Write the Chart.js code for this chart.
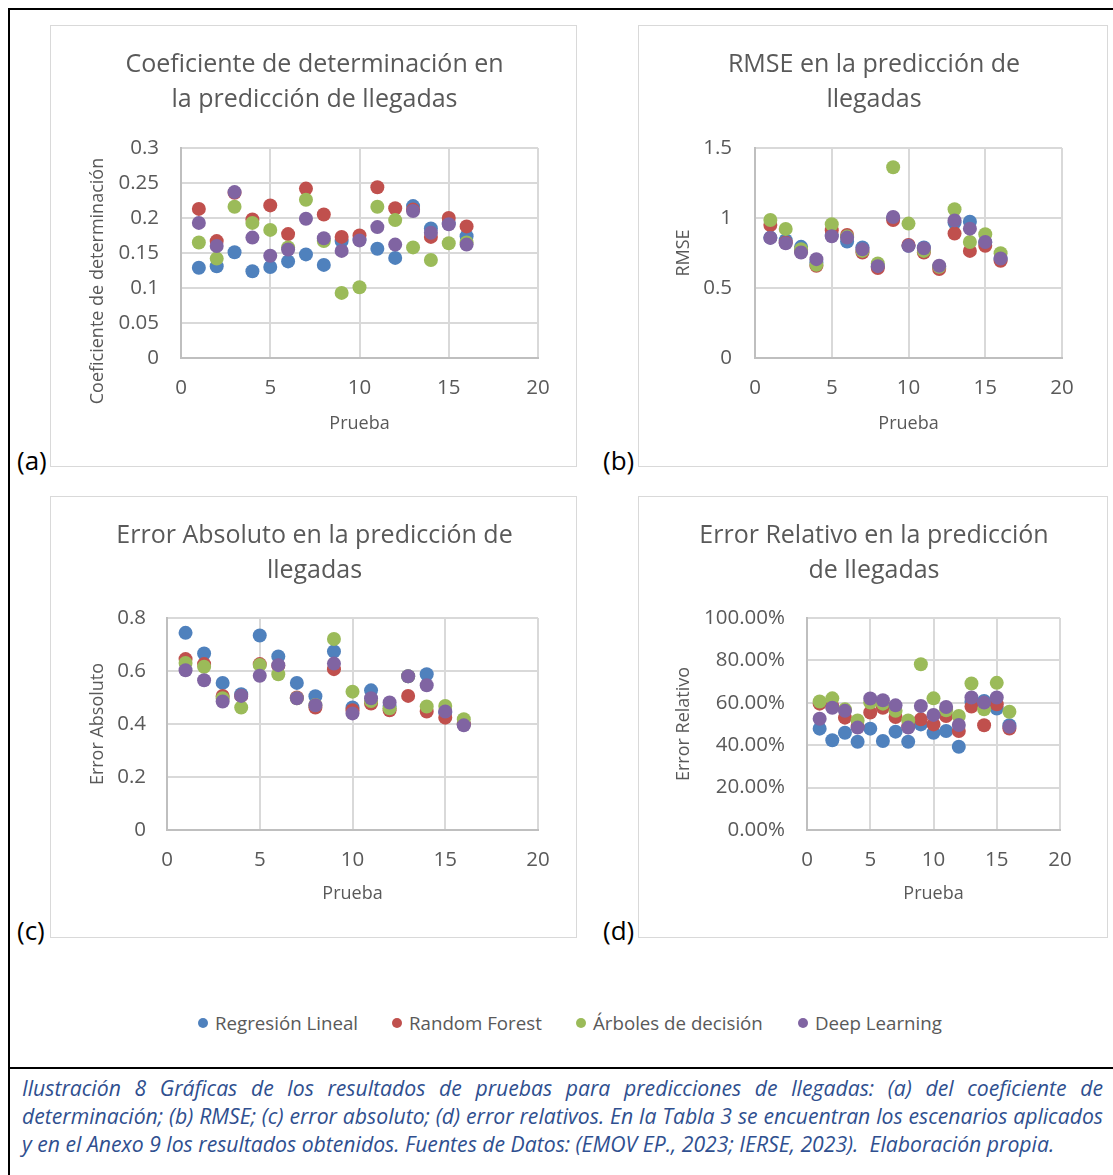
<!DOCTYPE html>
<html>
<head>
<meta charset="utf-8">
<script src="https://cdn.jsdelivr.net/npm/chart.js@4.4.1/dist/chart.umd.min.js"></script>
<style>
  body { margin: 0; background: #fff; width: 1113px; height: 1175px; position: relative; overflow: hidden; font-family: "Open Sans", sans-serif; }
  .frame-top { position: absolute; left: 8px; top: 8px; width: 1105px; height: 2px; background: #000; }
  .frame-left { position: absolute; left: 8px; top: 8px; width: 2px; height: 1167px; background: #000; }
  .frame-mid { position: absolute; left: 8px; top: 1067px; width: 1105px; height: 2px; background: #000; }
  .box { position: absolute; border: 1px solid #d9d9d9; box-sizing: border-box; }
  .box canvas { position: absolute; left: 0; top: 0; }
  .tag { position: absolute; font-size: 26px; color: #000; line-height: 28px; }
  .legend { position: absolute; top: 1010px; left: 0; width: 1113px; font-size: 18.7px; color: #595959; }
  .legend span { position: absolute; white-space: nowrap; }
  .legend i { display: inline-block; width: 10px; height: 10px; border-radius: 50%; margin-right: 7px; vertical-align: 2px; }
  .caption { position: absolute; left: 22px; width: 1081px; top: 1074px; color: #2f4f8f; font-style: italic; font-size: 21.2px; }
  .caption div { height: 28px; line-height: 28px; white-space: nowrap; }
  .caption .j { text-align: justify; text-align-last: justify; white-space: normal; }
</style>
</head>
<body>
<div class="frame-top"></div>
<div class="frame-left"></div>
<div class="frame-mid"></div>

<div class="box" style="left:50px;top:25px;width:527px;height:442px"><canvas id="chartA" width="527" height="442"></canvas></div>
<div class="box" style="left:638px;top:25px;width:470px;height:442px"><canvas id="chartB" width="470" height="442"></canvas></div>
<div class="box" style="left:50px;top:496px;width:527px;height:442px"><canvas id="chartC" width="527" height="442"></canvas></div>
<div class="box" style="left:638px;top:496px;width:470px;height:442px"><canvas id="chartD" width="470" height="442"></canvas></div>

<div class="tag" style="left:17px;top:446px">(a)</div>
<div class="tag" style="left:603px;top:446px">(b)</div>
<div class="tag" style="left:17px;top:916px">(c)</div>
<div class="tag" style="left:603px;top:916px">(d)</div>

<div class="legend" id="legend"></div>

<div class="caption">
  <div class="j">Ilustración 8 Gráficas de los resultados de pruebas para predicciones de llegadas: (a) del coeficiente de</div>
  <div class="j">determinación; (b) RMSE; (c) error absoluto; (d) error relativos. En la Tabla 3 se encuentran los escenarios aplicados</div>
  <div>y en el Anexo 9 los resultados obtenidos. Fuentes de Datos: (EMOV EP., 2023; IERSE, 2023).&nbsp; Elaboración propia.</div>
</div>

<script>
// x values: numero de prueba
const pruebas = [1, 2, 3, 4, 5, 6, 7, 8, 9, 10, 11, 12, 13, 14, 15, 16];

const seriesNames = ['Regresión Lineal', 'Random Forest', 'Árboles de decisión', 'Deep Learning'];
const seriesColors = ['#4f81bd', '#c0504d', '#9bbb59', '#8064a2'];

// (a) coeficiente de determinacion
const r2Lineal  = [0.129, 0.131, 0.151, 0.124, 0.130, 0.138, 0.148, 0.133, 0.167, 0.170, 0.156, 0.143, 0.217, 0.185, 0.193, 0.174];
const r2Forest  = [0.213, 0.167, 0.236, 0.198, 0.218, 0.177, 0.242, 0.205, 0.173, 0.175, 0.244, 0.214, 0.212, 0.173, 0.200, 0.188];
const r2Arboles = [0.165, 0.142, 0.216, 0.193, 0.183, 0.158, 0.226, 0.167, 0.093, 0.101, 0.216, 0.197, 0.158, 0.140, 0.164, 0.165];
const r2Deep    = [0.193, 0.160, 0.237, 0.172, 0.146, 0.155, 0.199, 0.171, 0.153, 0.168, 0.187, 0.162, 0.210, 0.179, 0.191, 0.162];

// (b) RMSE
const rmseLineal  = [0.860, 0.841, 0.794, 0.682, 0.879, 0.832, 0.789, 0.652, 0.998, 0.801, 0.789, 0.652, 0.967, 0.974, 0.825, 0.706];
const rmseForest  = [0.950, 0.825, 0.765, 0.659, 0.912, 0.879, 0.754, 0.642, 0.986, 0.808, 0.754, 0.635, 0.889, 0.765, 0.801, 0.694];
const rmseArboles = [0.986, 0.922, 0.777, 0.666, 0.955, 0.867, 0.765, 0.675, 1.363, 0.960, 0.765, 0.652, 1.062, 0.829, 0.884, 0.749];
const rmseDeep    = [0.858, 0.820, 0.754, 0.706, 0.870, 0.860, 0.777, 0.656, 1.007, 0.801, 0.784, 0.659, 0.983, 0.924, 0.829, 0.711];

// (c) error absoluto
const absLineal  = [0.744, 0.666, 0.555, 0.512, 0.734, 0.655, 0.555, 0.505, 0.674, 0.462, 0.527, 0.468, 0.580, 0.588, 0.443, 0.399];
const absForest  = [0.645, 0.626, 0.506, 0.506, 0.626, 0.620, 0.500, 0.462, 0.607, 0.452, 0.477, 0.452, 0.506, 0.447, 0.424, 0.399];
const absArboles = [0.630, 0.616, 0.497, 0.462, 0.623, 0.588, 0.497, 0.472, 0.721, 0.522, 0.487, 0.459, 0.580, 0.466, 0.468, 0.418];
const absDeep    = [0.603, 0.565, 0.485, 0.506, 0.582, 0.622, 0.497, 0.471, 0.628, 0.440, 0.497, 0.481, 0.580, 0.546, 0.447, 0.395];

// (d) error relativo (fraccion)
const relLineal  = [0.478, 0.423, 0.459, 0.416, 0.478, 0.420, 0.464, 0.416, 0.498, 0.459, 0.467, 0.393, 0.605, 0.609, 0.573, 0.494];
const relForest  = [0.596, 0.585, 0.530, 0.491, 0.554, 0.577, 0.533, 0.491, 0.522, 0.498, 0.538, 0.467, 0.582, 0.494, 0.593, 0.479];
const relArboles = [0.606, 0.621, 0.569, 0.517, 0.601, 0.596, 0.562, 0.517, 0.782, 0.621, 0.565, 0.538, 0.691, 0.569, 0.694, 0.558];
const relDeep    = [0.525, 0.577, 0.562, 0.483, 0.620, 0.612, 0.588, 0.483, 0.585, 0.543, 0.580, 0.495, 0.625, 0.601, 0.625, 0.487];

const xTicks = [0, 5, 10, 15, 20];

const gray = '#595959';
const gridColor = '#d9d9d9';
const font = 'Open Sans';

const toPoints = (ys) => pruebas.map((x, i) => ({ x: x, y: ys[i] }));

// build one scatter chart; excel draws later series on top, so order is reversed
const makeChart = (id, title, yTitle, seriesData, y, lay) => {
    const datasets = seriesData.map((ys, i) => ({
        label: seriesNames[i],
        data: toPoints(ys),
        backgroundColor: seriesColors[i],
        borderWidth: 0,
        pointRadius: 7,
        order: seriesData.length - i
    }));

    return new Chart(document.getElementById(id), {
        type: 'scatter',
        data: { datasets: datasets },
        options: {
            responsive: false,
            animation: false,
            devicePixelRatio: 1,
            layout: { padding: 0 },
            plugins: {
                legend: { display: false },
                tooltip: { enabled: false },
                title: {
                    display: true,
                    text: title,
                    color: gray,
                    font: { family: font, size: 25, weight: 'normal', lineHeight: 1.4 },
                    padding: { top: 21.5, bottom: lay.titleBottom }
                }
            },
            scales: {
                x: {
                    type: 'linear',
                    min: 0,
                    max: 20,
                    afterBuildTicks: (scale) => { scale.ticks = xTicks.map((v) => ({ value: v })); },
                    afterFit: (scale) => { scale.height = lay.xHeight; },
                    grid: { color: gridColor, lineWidth: 2, drawTicks: false },
                    border: { color: '#bfbfbf', width: 2 },
                    ticks: { color: gray, font: { family: font, size: 20.5 }, padding: 18, maxRotation: 0 },
                    title: {
                        display: true,
                        text: 'Prueba',
                        color: gray,
                        font: { family: font, size: 18 },
                        padding: { top: 0, bottom: lay.xTitlePad }
                    }
                },
                y: {
                    type: 'linear',
                    min: y.min,
                    max: y.max,
                    afterBuildTicks: (scale) => { scale.ticks = y.ticks.map((v) => ({ value: v })); },
                    afterFit: (scale) => { scale.width = lay.yWidth; },
                    grid: { color: gridColor, lineWidth: 2, drawTicks: false },
                    border: { color: '#bfbfbf', width: 2 },
                    ticks: {
                        color: gray,
                        font: { family: font, size: 20.5 },
                        padding: lay.yTickPad,
                        callback: y.format
                    },
                    title: {
                        display: true,
                        text: yTitle,
                        color: gray,
                        font: { family: font, size: 18 },
                        padding: { top: lay.yTitlePad, bottom: 0 }
                    }
                },
                // empty axis on the right, only to keep the outer margin so the title stays centred
                margin: {
                    type: 'linear',
                    position: 'right',
                    display: true,
                    afterFit: (scale) => { scale.width = lay.right; },
                    grid: { display: false, drawTicks: false },
                    border: { display: false },
                    ticks: { display: false }
                }
            }
        }
    });
};

const r2Ticks = [0, 0.05, 0.1, 0.15, 0.2, 0.25, 0.3];
const rmseTicks = [0, 0.5, 1, 1.5];
const absTicks = [0, 0.2, 0.4, 0.6, 0.8];
const relTicks = [0, 0.2, 0.4, 0.6, 0.8, 1];

// trailing spaces push the long title down, like in the original
makeChart('chartA', ['Coeficiente de determinación en', 'la predicción de llegadas'], 'Coeficiente de determinación            ',
    [r2Lineal, r2Forest, r2Arboles, r2Deep],
    { min: 0, max: 0.3, ticks: r2Ticks, format: (v) => String(+v.toFixed(2)) },
    { right: 40, titleBottom: 30.5, xHeight: 110, xTitlePad: 33, yWidth: 130, yTickPad: 22, yTitlePad: 36 });

makeChart('chartB', ['RMSE en la predicción de', 'llegadas'], 'RMSE',
    [rmseLineal, rmseForest, rmseArboles, rmseDeep],
    { min: 0, max: 1.5, ticks: rmseTicks, format: (v) => String(+v.toFixed(1)) },
    { right: 47, titleBottom: 30.5, xHeight: 110, xTitlePad: 33, yWidth: 116, yTickPad: 23, yTitlePad: 34 });

makeChart('chartC', ['Error Absoluto en la predicción de', 'llegadas'], 'Error Absoluto',
    [absLineal, absForest, absArboles, absDeep],
    { min: 0, max: 0.8, ticks: absTicks, format: (v) => String(+v.toFixed(1)) },
    { right: 40, titleBottom: 29.5, xHeight: 109, xTitlePad: 34, yWidth: 116, yTickPad: 21, yTitlePad: 36 });

makeChart('chartD', ['Error Relativo en la predicción', 'de llegadas'], 'Error Relativo',
    [relLineal, relForest, relArboles, relDeep],
    { min: 0, max: 1, ticks: relTicks, format: (v) => (v * 100).toFixed(2) + '%' },
    { right: 49, titleBottom: 29.5, xHeight: 109, xTitlePad: 34, yWidth: 168, yTickPad: 22, yTitlePad: 34 });

// shared legend under the four charts
const legendLeft = [198, 392, 576, 798];
const legend = document.getElementById('legend');
seriesNames.forEach((name, i) => {
    const item = document.createElement('span');
    item.style.left = legendLeft[i] + 'px';
    item.innerHTML = '<i style="background:' + seriesColors[i] + '"></i>' + name;
    legend.appendChild(item);
});
</script>
</body>
</html>
